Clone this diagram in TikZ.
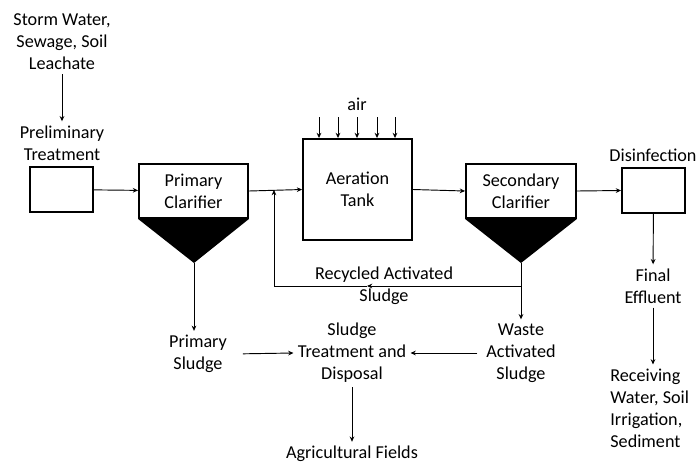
\documentclass[tikz,border=0pt]{standalone}
\usepackage{fontspec}
\setmainfont{Carlito}
\usetikzlibrary{arrows.meta}
\tikzset{
  lbl/.style={align=center, font=\fontsize{15.5}{18.7}\selectfont},
  tank/.style={draw, line width=1.6pt, minimum width=#1},
  flow/.style={line width=0.8pt},
}
\begin{document}
\begin{tikzpicture}[x=0.03cm, y=-0.03cm, >={Stealth[length=4.5pt,width=4pt]}, flow]
\useasboundingbox (0,0) rectangle (697,464);

% labels
\node[lbl](sw) at (62,42){Storm Water,\\Sewage, Soil\\Leachate};
\node[lbl](pt) at (62,143){Preliminary\\Treatment};
\node[lbl](air) at (357,104){air};
\node[lbl](ds) at (653,155){Disinfection};

% units
\node[tank=1.89cm, minimum height=1.35cm](pb) at (61.5,189.5){};
\node[tank=3.27cm, minimum height=1.62cm, lbl](pc) at (193.5,191){Primary\\Clarifier};
\node[tank=3.27cm, minimum height=3.03cm, lbl](at) at (357.5,189.5){Aeration\\Tank};
\node[tank=3.3cm, minimum height=1.62cm, lbl](sc) at (521,191){Secondary\\Clarifier};
\node[tank=1.89cm, minimum height=1.35cm](db) at (653.5,190.5){};

% hoppers
\coordinate (pca) at (194,263);
\coordinate (sca) at (521,263);
\fill (pc.south west)--(pc.south east)--(pca)--cycle;
\fill (sc.south west)--(sc.south east)--(sca)--cycle;

% products
\node[lbl](ps) at (198,354){Primary\\Sludge};
\node[lbl](st) at (352,353){Sludge\\Treatment and\\Disposal};
\node[lbl](wa) at (521,353){Waste\\Activated\\Sludge};
\node[lbl](af) at (352,454){Agricultural Fields};
\node[lbl](rc) at (384,286){Recycled Activated\\Sludge};
\node[lbl](fe) at (653,286){Final\\Effluent};
\node[lbl, align=left, anchor=west](rw) at (606,408){Receiving\\Water, Soil\\Irrigation,\\Sediment};

% main line
\draw[->](sw)--(pt);
\draw[->](pb)--(pc);
\draw[->](pc.east)--(at.west);
\draw[->](at.east)--(sc.west);
\draw[->](sc.east)--(db.west);
\draw[->](db)--(fe);
\draw[->](fe)--(fe |- rw.north);

% air
\foreach \x/\n in {319/1,338/2,357/3,377/4,395/5}{
  \coordinate (a\n) at (\x,117);
  \draw[->](a\n)--(a\n |- at.north);
}

% recycle
\coordinate (jn) at (274,190);
\coordinate (rs) at (521,286);
\coordinate (rm) at (367,286);
\draw[->](rs)--(rm);
\draw[->](rm)-|(jn);

% sludge
\draw[->](pca)--(pca |- ps.north);
\draw[->](sca)--(wa);
\draw[->, shorten <=10pt](ps.east)--(st.west);
\draw[->, shorten <=4pt](wa.west)--(st.east);
\draw[->](st)--(af);
\end{tikzpicture}
\end{document}
